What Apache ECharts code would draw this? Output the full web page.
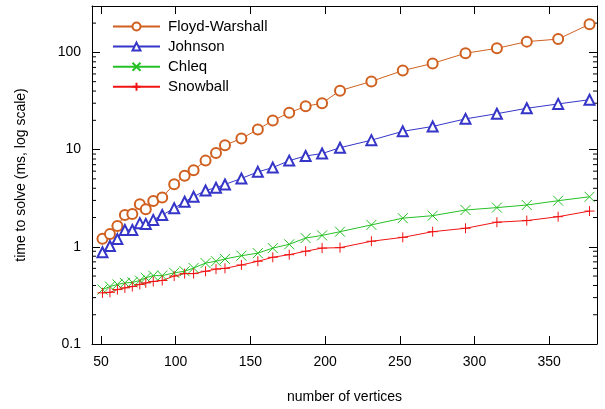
<!DOCTYPE html>
<html>
<head>
<meta charset="utf-8">
<script src="https://cdn.jsdelivr.net/npm/echarts@6/dist/echarts.min.js"></script>
<style>
  html, body { margin: 0; padding: 0; background: #fff; }
  #chart { width: 605px; height: 409px; }
</style>
</head>
<body>
<div id="chart"></div>
<script>
// number of vertices
const vertices = [51, 56, 61, 66, 71, 76, 80, 85, 91, 99, 106, 112, 120, 127, 133,
  144, 155, 165, 176, 187, 198, 210, 231, 252, 272, 294, 315, 335, 356, 377];

// time to solve, ms
const floydWarshall = [1.21, 1.35, 1.64, 2.12, 2.18, 2.74, 2.43, 2.96, 3.22, 4.41, 5.37, 6.14, 7.7, 9.2, 11.1,
  13.0, 16.1, 19.9, 23.9, 27.9, 30, 40.4, 50.3, 65, 77, 98, 110, 129, 137, 195];
const johnson = [0.88, 1.02, 1.2, 1.49, 1.49, 1.75, 1.72, 1.89, 2.12, 2.49, 2.91, 3.27, 3.8, 4.05, 4.38,
  5.05, 5.9, 6.53, 7.7, 8.6, 9.1, 10.45, 12.5, 15.4, 17.3, 20.7, 23.4, 26.6, 29.5, 32.6];
const chleq = [0.363, 0.39, 0.41, 0.425, 0.43, 0.45, 0.48, 0.505, 0.505, 0.54, 0.56, 0.605, 0.68, 0.71, 0.75,
  0.81, 0.86, 0.97, 1.06, 1.23, 1.31, 1.43, 1.68, 1.97, 2.09, 2.39, 2.53, 2.69, 2.98, 3.27];
const snowball = [0.336, 0.34, 0.363, 0.378, 0.39, 0.41, 0.425, 0.44, 0.45, 0.50, 0.53, 0.53, 0.56, 0.59, 0.6,
  0.65, 0.71, 0.78, 0.83, 0.90, 0.97, 0.98, 1.14, 1.25, 1.43, 1.55, 1.79, 1.86, 2.04, 2.33];

const xTicks = [50, 100, 150, 200, 250, 300, 350];
const yMinorTicks = [0.2, 0.3, 0.4, 0.5, 0.6, 0.7, 0.8, 0.9, 2, 3, 4, 5, 6, 7, 8, 9,
  20, 30, 40, 50, 60, 70, 80, 90, 200];

const X_MIN = 44, X_MAX = 382;
const FONT = '"Liberation Sans", Arial, sans-serif';

const pair = (ys) => vertices.map((x, i) => [x, ys[i]]);

const chart = echarts.init(document.getElementById('chart'), null, {renderer: 'canvas'});

const makeSeries = (name, ys, color, symbol, size) => ({
  name: name,
  type: 'line',
  data: pair(ys),
  symbol: symbol,
  symbolSize: size,
  showAllSymbol: true,
  lineStyle: {color: color, width: 1},
  itemStyle: {color: color, borderColor: color, borderWidth: 1},
  emphasis: {disabled: true},
  animation: false,
  z: 3
});

const axisCommon = {
  axisLine: {show: true, onZero: false, lineStyle: {color: '#000', width: 1}},
  splitLine: {show: false}
};

const option = {
  animation: false,
  textStyle: {fontFamily: FONT},
  grid: {left: 92, right: 8, top: 6, bottom: 65},
  legend: {
    data: ['Floyd-Warshall', 'Johnson', 'Chleq', 'Snowball'],
    orient: 'vertical',
    left: 107,
    top: 14,
    itemWidth: 47,
    itemHeight: 10,
    itemGap: 5.1,
    textStyle: {fontFamily: FONT, fontSize: 15, color: '#000', padding: [0, 0, 0, 3]},
    selectedMode: false
  },
  xAxis: [
    Object.assign({}, axisCommon, {
      type: 'value', min: X_MIN, max: X_MAX, position: 'bottom',
      name: 'number of vertices', nameLocation: 'middle', nameGap: 46,
      nameTextStyle: {fontFamily: FONT, fontSize: 14, color: '#000'},
      axisTick: {show: true, inside: true, length: 8, customValues: xTicks, lineStyle: {color: '#000'}},
      axisLabel: {customValues: xTicks, fontFamily: FONT, fontSize: 14, color: '#000', margin: 11}
    }),
    Object.assign({}, axisCommon, {
      type: 'value', min: X_MIN, max: X_MAX, position: 'top',
      axisTick: {show: true, inside: true, length: 8, customValues: xTicks, lineStyle: {color: '#000'}},
      axisLabel: {show: false}
    })
  ],
  yAxis: [
    Object.assign({}, axisCommon, {
      type: 'log', logBase: 10, min: 0.1, max: 300, position: 'left',
      name: 'time to solve (ms, log scale)', nameLocation: 'middle', nameGap: 64,
      nameTextStyle: {fontFamily: FONT, fontSize: 14, color: '#000'},
      axisTick: {show: true, inside: true, length: 8, lineStyle: {color: '#000'}},
      axisLabel: {
        fontFamily: FONT, fontSize: 14, color: '#000', margin: 11,
        formatter: (v) => {
          const l = Math.log10(v);
          return Math.abs(l - Math.round(l)) < 1e-6 ? String(+v.toPrecision(3)) : '';
        }
      }
    }),
    Object.assign({}, axisCommon, {
      type: 'log', logBase: 10, min: 0.1, max: 300, position: 'right',
      axisTick: {show: true, inside: true, length: 8, lineStyle: {color: '#000'}},
      axisLabel: {show: false}
    })
  ],
  series: [
    makeSeries('Floyd-Warshall', floydWarshall, '#d0601f', 'emptyCircle', 10),
    makeSeries('Johnson', johnson, '#3535c8', 'emptyTriangle', 10),
    makeSeries('Chleq', chleq, '#26c026', 'path://M0,0L10,10M10,0L0,10', 10),
    makeSeries('Snowball', snowball, '#f01414', 'path://M5,0L5,10M0,5L10,5', 10),
    {
      // minor ticks of the log axis, left and right
      type: 'custom',
      silent: true,
      clip: false,
      z: 1,
      data: yMinorTicks.map((v) => [X_MIN, v]),
      renderItem: (params, api) => {
        const y = api.coord([X_MIN, api.value(1)])[1];
        const cs = params.coordSys;
        const st = {stroke: '#000', lineWidth: 1};
        return {
          type: 'group',
          children: [
            {type: 'line', shape: {x1: cs.x, y1: y, x2: cs.x + 4, y2: y}, style: st},
            {type: 'line', shape: {x1: cs.x + cs.width - 4, y1: y, x2: cs.x + cs.width, y2: y}, style: st}
          ]
        };
      }
    }
  ]
};

chart.setOption(option);
</script>
</body>
</html>
